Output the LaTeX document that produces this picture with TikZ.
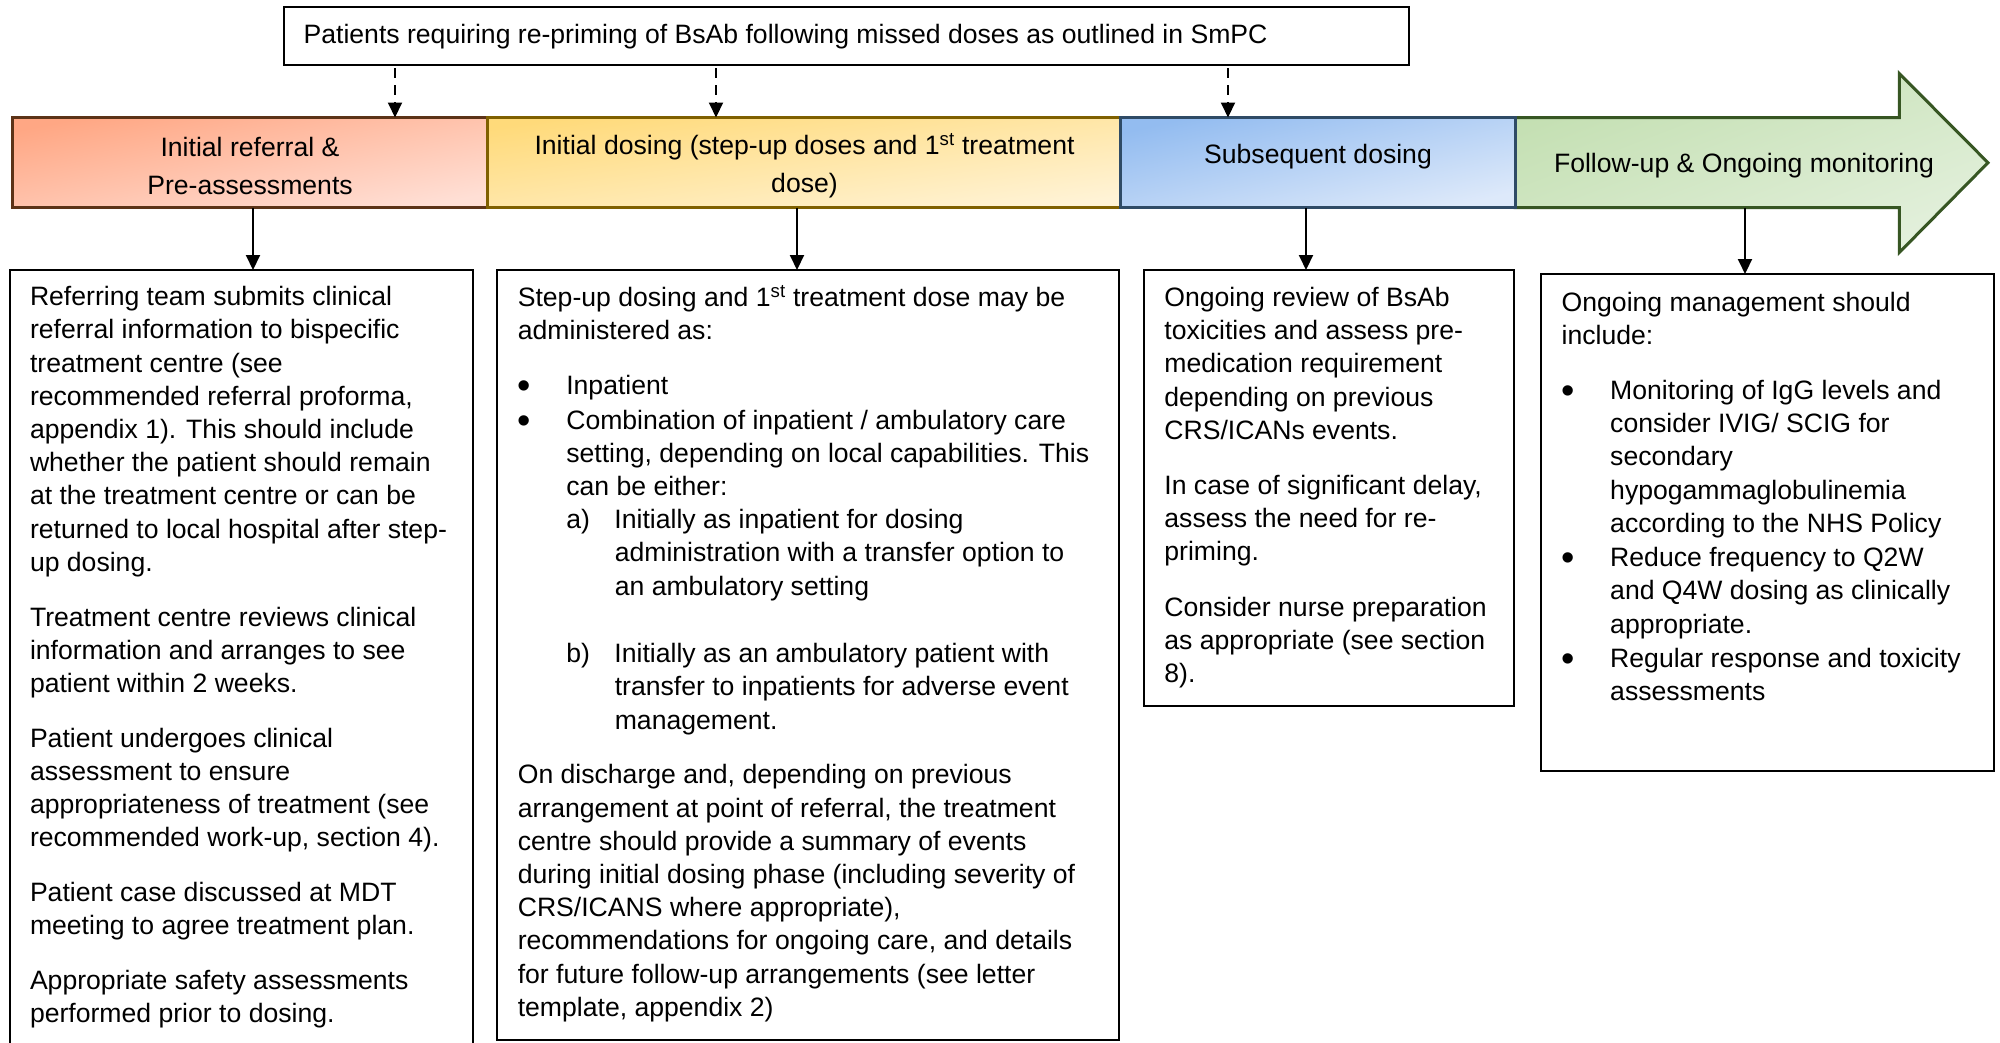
\documentclass[tikz,border=0pt]{standalone}
\usepackage{fontspec}
\setmainfont{Liberation Sans}
\usetikzlibrary{arrows.meta,calc}
\definecolor{sa}{HTML}{FFA784}\definecolor{sb}{HTML}{FFDFD5}\definecolor{sd}{HTML}{5C3317}
\definecolor{ya}{HTML}{FFDA7A}\definecolor{yb}{HTML}{FFF3D6}\definecolor{yd}{HTML}{7F6000}
\definecolor{ba}{HTML}{93BCF0}\definecolor{bb}{HTML}{DDE9FA}\definecolor{bd}{HTML}{2F4B66}
\definecolor{ga}{HTML}{C3DFB1}\definecolor{gb}{HTML}{E3F0DC}\definecolor{gd}{HTML}{375623}
\tikzset{
  body/.style={font=\fontsize{26.6}{33.2}\selectfont, align=left, inner sep=0pt, outer sep=0pt, anchor=north west},
  box/.style={draw=black, line width=2pt, fill=white, inner sep=0pt, outer sep=0pt, anchor=north west},
  seg/.style={line width=3pt, inner sep=0pt, outer sep=0pt, anchor=north west, minimum height=90pt},
  lbl/.style={font=\fontsize{26.6}{38.3}\selectfont, align=center, inner sep=0pt},
  conn/.style={line width=2pt, -{Triangle[length=15pt,width=14pt]}},
  dconn/.style={conn, dash pattern=on 10pt off 7pt},
}
\newcommand{\bul}{\makebox[48.5pt][l]{\raisebox{-4pt}{\fontsize{38}{38}\selectfont\textbullet}}}
\newcommand{\ind}{\hspace*{48.5pt}}
\begin{document}
\begin{tikzpicture}[x=1pt,y=-1pt]
\useasboundingbox (0,0) rectangle (2000,1042);
% top box
\node[box, minimum width=1125pt, minimum height=57.4pt] (tb) at (284,7.3) {};
\node[body, anchor=west] (tt) at (303.6,36.8) {Patients requiring re-priming of BsAb following missed doses as outlined in SmPC};
% phase bar
\path[draw=gd, line width=3pt, line join=miter, top color=ga, bottom color=gb, shading angle=21]
  (1515,117.5) -- (1899.3,117.5) -- (1899.3,73.5) -- (1988,162.7) -- (1899.3,252.5) -- (1899.3,207.5) -- (1515,207.5) -- cycle;
\node[seg, minimum width=384.3pt] (s4) at (1515,117.5) {};
\node[seg, minimum width=475pt, draw=sd, top color=sa, bottom color=sb, shading angle=11] (s1) at (12.7,117.5) {};
\node[seg, minimum width=633pt, draw=yd, top color=ya, bottom color=yb, shading angle=8] (s2) at (487.7,117.5) {};
\node[seg, minimum width=394.3pt, draw=bd, top color=ba, bottom color=bb, shading angle=13] (s3) at (1120.7,117.5) {};
\node[lbl] (l1) at (250,166) {Initial referral \&\\Pre-assessments};
\node[lbl] (l2) at (804.5,166) {Initial dosing (step-up doses and 1\textsuperscript{st} treatment\\dose)};
\node[lbl] (l3) at (1318,156.8) {Subsequent dosing};
\node[lbl] (l4) at (1744,165.5) {Follow-up \& Ongoing monitoring};
% content boxes
\node[box, minimum width=463pt, minimum height=790pt] (b1) at (9.5,270) {};
\node[box, minimum width=621.7pt, minimum height=770pt] (b2) at (497.3,270) {};
\node[box, minimum width=369.5pt, minimum height=436pt] (b3) at (1144,270) {};
\node[box, minimum width=453pt, minimum height=496.5pt] (b4) at (1541,274) {};
\node[body] (t1) at (30,286.5) {Referring team submits clinical\\
referral information to bispecific\\
treatment centre (see\\
recommended referral proforma,\\
appendix 1). This should include\\
whether the patient should remain\\
at the treatment centre or can be\\
returned to local hospital after step-\\
up dosing.\\[21.6pt]
Treatment centre reviews clinical\\
information and arranges to see\\
patient within 2 weeks.\\[21.6pt]
Patient undergoes clinical\\
assessment to ensure\\
appropriateness of treatment (see\\
recommended work-up, section 4).\\[21.6pt]
Patient case discussed at MDT\\
meeting to agree treatment plan.\\[21.6pt]
Appropriate safety assessments\\
performed prior to dosing.};
\node[body] (t2) at (517.8,285.7) {Step-up dosing and 1\textsuperscript{st} treatment dose may be\\
administered as:\\[21.6pt]
\bul Inpatient\\[1.2pt]
\bul Combination of inpatient / ambulatory care\\
\ind setting, depending on local capabilities. This\\
\ind can be either:\\
\ind\makebox[48.2pt][l]{a)}Initially as inpatient for dosing\\
\ind\ind administration with a transfer option to\\
\ind\ind an ambulatory setting\\[34.4pt]
\ind\makebox[48.2pt][l]{b)}Initially as an ambulatory patient with\\
\ind\ind transfer to inpatients for adverse event\\
\ind\ind management.\\[21.6pt]
On discharge and, depending on previous\\
arrangement at point of referral, the treatment\\
centre should provide a summary of events\\
during initial dosing phase (including severity of\\
CRS/ICANS where appropriate),\\
recommendations for ongoing care, and details\\
for future follow-up arrangements (see letter\\
template, appendix 2)};
\node[body] (t3) at (1164.4,287.2) {Ongoing review of BsAb\\
toxicities and assess pre-\\
medication requirement\\
depending on previous\\
CRS/ICANs events.\\[21.6pt]
In case of significant delay,\\
assess the need for re-\\
priming.\\[22.8pt]
Consider nurse preparation\\
as appropriate (see section\\
8).};
\node[body] (t4) at (1561.7,292.3) {Ongoing management should\\
include:\\[21.6pt]
\bul Monitoring of IgG levels and\\
\ind consider IVIG/ SCIG for\\
\ind secondary\\
\ind hypogammaglobulinemia\\
\ind according to the NHS Policy\\[1.2pt]
\bul Reduce frequency to Q2W\\
\ind and Q4W dosing as clinically\\
\ind appropriate.\\[1.2pt]
\bul Regular response and toxicity\\
\ind assessments};
% connectors
\coordinate (d1) at (395,0);
\coordinate (d2) at (716,0);
\coordinate (d3) at (1228,0);
\draw[dconn] ([yshift=-3.5pt]tb.south -| d1) -- (s1.north -| d1);
\draw[dconn] ([yshift=-3.5pt]tb.south -| d2) -- (s2.north -| d2);
\draw[dconn] ([yshift=-3.5pt]tb.south -| d3) -- (s3.north -| d3);
\coordinate (a1) at (253,0);
\coordinate (a2) at (797,0);
\coordinate (a3) at (1306,0);
\coordinate (a4) at (1745,0);
\draw[conn] (s1.south -| a1) -- (b1.north -| a1);
\draw[conn] (s2.south -| a2) -- (b2.north -| a2);
\draw[conn] (s3.south -| a3) -- (b3.north -| a3);
\draw[conn] (s4.south -| a4) -- (b4.north -| a4);
\end{tikzpicture}
\end{document}
